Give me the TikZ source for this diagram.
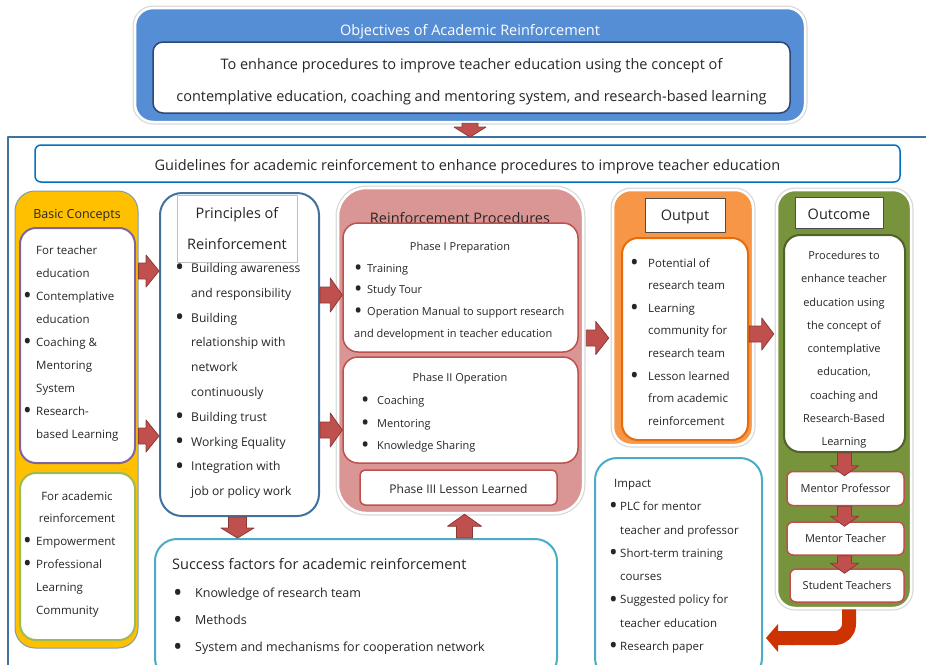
\documentclass[tikz,border=0pt]{standalone}
\usepackage{fontspec}
\setmainfont{Open Sans}
\usetikzlibrary{calc}
\definecolor{objblue}{RGB}{85,142,213}
\definecolor{objline}{RGB}{44,72,117}
\definecolor{frameblue}{RGB}{65,113,156}
\definecolor{guideblue}{RGB}{0,112,192}
\definecolor{bcyellow}{RGB}{255,192,0}
\definecolor{bcpurple}{RGB}{128,100,162}
\definecolor{bcgreen}{RGB}{155,187,89}
\definecolor{prpink}{RGB}{217,150,148}
\definecolor{prred}{RGB}{192,80,77}
\definecolor{prdark}{RGB}{140,56,54}
\definecolor{oporange}{RGB}{247,150,70}
\definecolor{opline}{RGB}{228,108,10}
\definecolor{ocgreen}{RGB}{119,147,60}
\definecolor{ocline}{RGB}{79,98,40}
\definecolor{imblue}{RGB}{75,172,198}
\definecolor{bendred}{RGB}{204,51,0}
\definecolor{txt}{RGB}{38,38,38}

\newcommand{\bl}[1]{\makebox[#1][l]{\raisebox{-0.27em}{\scalebox{2}{\textbullet}}}}
\newcommand{\ind}[1]{\hspace*{#1}}

\tikzset{
  halo/.style={preaction={draw=black!15,line width=5pt},draw=white,line width=2.5pt},
  rbox/.style={draw,fill=white,line width=1.5pt,rounded corners=#1},
  fat/.style n args={3}{to path={let \p1=($(\tikztotarget)-(\tikztostart)$),
      \n1={veclen(\x1,\y1)}, \n2={atan2(\y1,\x1)} in
      {[shift={(\tikztostart)},rotate=\n2,x=1pt,y=1pt]
       (0,-#1) -- (\n1-#3,-#1) -- (\n1-#3,-#2) -- (\n1,0) -- (\n1-#3,#2) -- (\n1-#3,#1) -- (0,#1) -- cycle}}},
  blockarrow/.style={fill=prred,draw=prdark,line width=0.8pt},
  tbig/.style={font=\fontsize{14.5}{16}\selectfont},
  tmid/.style={font=\fontsize{12.5}{14}\selectfont},
  tsmall/.style={font=\fontsize{11}{13}\selectfont},
  lst/.style={anchor=north west,align=left},
}

\begin{document}
\begin{tikzpicture}[x=1pt,y=-1pt,line join=round,every node/.style={inner sep=0pt,text=txt}]
\useasboundingbox (0,0) rectangle (926,664);

% objectives
\node[halo,fill=objblue,rounded corners=18,minimum width=670,minimum height=114] (obj) at (470,65) {};
\node[tbig,text=white] (objtitle) at (470,32) {Objectives of Academic Reinforcement};
\node[rbox=10,draw=objline,minimum width=637,minimum height=71] (objin) at (471.5,77.5) {};
\node[align=center,font=\fontsize{14.5}{32}\selectfont] (objint) at (471.5,81.5)
  {To enhance procedures to improve teacher education using the concept of\\
   contemplative education, coaching and mentoring system, and research-based learning};

% frame
\coordinate (ftop) at (470,137);
\draw[frameblue,line width=2pt] (940,137) -- (8,137) -- (8,680);
\draw[blockarrow] (obj.south) to[fat={8}{16}{10}] (ftop);
\node[rbox=6,draw=guideblue,minimum width=865,minimum height=37] (guide) at (467.5,163.5) {};
\node[tbig] (guidet) at (467.5,166.5)
  {Guidelines for academic reinforcement to enhance procedures to improve teacher education};

% basic concepts
\node[draw=frameblue!70,line width=1pt,fill=bcyellow,rounded corners=20,minimum width=123,minimum height=457] (basic) at (76.5,419.5) {};
\node[tmid] (basictitle) at (77,215) {Basic Concepts};
\node[rbox=16,draw=bcpurple,line width=2pt,minimum width=115,minimum height=235] (bcteach) at (77.5,345.5) {};
\node[lst,font=\fontsize{11.5}{22.9}\selectfont] (bcteacht) at (23,246)
  {\ind{13pt}For teacher\\ \ind{13pt}education\\ \bl{13pt}Contemplative\\ \ind{13pt}education\\
   \bl{13pt}Coaching \&\\ \ind{13pt}Mentoring\\ \ind{13pt}System\\ \bl{13pt}Research-\\ \ind{13pt}based Learning};
\node[rbox=16,draw=bcgreen,line width=2pt,minimum width=115,minimum height=167] (bcacad) at (77.5,556.5) {};
\node[align=center,font=\fontsize{11.5}{22.5}\selectfont] (bcacadt) at (77,507) {For academic\\reinforcement};
\node[lst,font=\fontsize{11.5}{23}\selectfont] (bcacadl) at (23,537)
  {\bl{13pt}Empowerment\\ \bl{13pt}Professional\\ \ind{13pt}Learning\\ \ind{13pt}Community};

% principles
\node[rbox=22,draw=frameblue,line width=2pt,minimum width=159,minimum height=323] (princ) at (239.5,354.5) {};
\node[draw=black!25,fill=white,line width=0.6pt,minimum width=120,minimum height=67,align=center,
  font=\fontsize{14.5}{31}\selectfont] (princt) at (237,229) {Principles of\\Reinforcement};
\node[lst,font=\fontsize{12.1}{24.8}\selectfont] (princl) at (175,263)
  {\bl{16pt}Building awareness\\ \ind{16pt}and responsibility\\ \bl{16pt}Building\\ \ind{16pt}relationship with\\
   \ind{16pt}network\\ \ind{16pt}continuously\\ \bl{16pt}Building trust\\ \bl{16pt}Working Equality\\
   \bl{16pt}Integration with\\ \ind{16pt}job or policy work};

% reinforcement procedures
\node[halo,fill=prpink,rounded corners=28,minimum width=245,minimum height=325] (proc) at (460.5,350.5) {};
\node[tbig] (proct) at (460,218) {Reinforcement Procedures};
\node[rbox=15,draw=prred,minimum width=235,minimum height=129] (ph1) at (460.5,287.5) {};
\node[tsmall] (ph1t) at (460,248) {Phase I Preparation};
\node[lst,font=\fontsize{11}{21.7}\selectfont] (ph1l) at (354,264)
  {\bl{13pt}Training\\ \bl{13pt}Study Tour\\ \bl{13pt}Operation Manual to support research\\ and development in teacher education};
\node[rbox=15,draw=prred,minimum width=235,minimum height=106] (ph2) at (460.5,410) {};
\node[tsmall] (ph2t) at (460,379) {Phase II Operation};
\node[lst,font=\fontsize{11}{22.5}\selectfont] (ph2l) at (361,396)
  {\bl{16pt}Coaching\\ \bl{16pt}Mentoring\\ \bl{16pt}Knowledge Sharing};
\node[rbox=5,draw=prred,minimum width=197,minimum height=35] (ph3) at (458.5,487.5) {};
\node[font=\fontsize{12}{14}\selectfont] (ph3t) at (458.5,489) {Phase III Lesson Learned};

% output
\node[halo,fill=oporange,rounded corners=18,minimum width=140,minimum height=255] (outp) at (683,317.5) {};
\node[draw=black!70,fill=white,line width=0.8pt,minimum width=80,minimum height=34] (outpt) at (685,215) {};
\node[tbig] (outptt) at (685,217) {Output};
\node[rbox=16,draw=opline,line width=2pt,minimum width=126,minimum height=202] (outpin) at (685,339) {};
\node[lst,font=\fontsize{11.5}{22.6}\selectfont] (outpl) at (630,258)
  {\bl{18pt}Potential of\\ \ind{18pt}research team\\ \bl{18pt}Learning\\ \ind{18pt}community for\\ \ind{18pt}research team\\
   \bl{18pt}Lesson learned\\ \ind{18pt}from academic\\ \ind{18pt}reinforcement};

% outcome
\node[halo,fill=ocgreen,rounded corners=18,minimum width=134,minimum height=418] (outc) at (844,399) {};
\node[draw=black!70,fill=white,line width=0.8pt,minimum width=88,minimum height=31] (outct) at (839,212.5) {};
\node[tbig] (outctt) at (839,214) {Outcome};
\node[rbox=16,draw=ocline,line width=2pt,minimum width=121,minimum height=217] (outcin) at (844.5,343.5) {};
\node[anchor=north,align=center,font=\fontsize{11}{23.25}\selectfont] (outcl) at (844,251)
  {Procedures to\\enhance teacher\\education using\\the concept of\\contemplative\\education,\\coaching and\\Research-Based\\Learning};
\node[rbox=6,draw=prred,minimum width=117,minimum height=34,tsmall] (mprof) at (845.5,488.5) {Mentor Professor};
\node[rbox=6,draw=prred,minimum width=117,minimum height=33,tsmall] (mteach) at (845.5,538.5) {Mentor Teacher};
\node[rbox=6,draw=prred,minimum width=114,minimum height=33,tsmall] (steach) at (847,585.5) {Student Teachers};
\foreach \a/\b in {outcin/mprof,mprof/mteach,mteach/steach}
  \draw[blockarrow] (\a.south -| outcin.south) to[fat={7}{14}{10}] ([yshift=-5]\b.north -| outcin.south);

% impact
\node[rbox=22,draw=imblue,line width=2pt,minimum width=167,minimum height=222] (impact) at (678.5,569) {};
\node[lst,font=\fontsize{11.5}{23.3}\selectfont] (impactl) at (609,479)
  {\ind{5pt}Impact\\ \bl{11pt}PLC for mentor\\ \ind{11pt}teacher and professor\\ \bl{11pt}Short-term training\\
   \ind{11pt}courses\\ \bl{11pt}Suggested policy for\\ \ind{11pt}teacher education\\ \bl{11pt}Research paper};

% success factors
\node[rbox=22,draw=imblue,line width=2pt,minimum width=402,minimum height=141] (success) at (356,609.5) {};
\node[tbig,anchor=west] (successt) at (172,564) {Success factors for academic reinforcement};
\node[lst,font=\fontsize{12.5}{27}\selectfont] (successl) at (173,588)
  {\bl{22pt}Knowledge of research team\\ \bl{22pt}Methods\\ \bl{22pt}System and mechanisms for cooperation network};

% block arrows
\coordinate (a1) at (0,271);
\coordinate (a2) at (0,436);
\coordinate (b1) at (0,295);
\coordinate (b2) at (0,430);
\draw[blockarrow] (basic.east |- a1) to[fat={8}{16}{13}] (princ.west |- a1);
\draw[blockarrow] (basic.east |- a2) to[fat={8}{16}{13}] (princ.west |- a2);
\draw[blockarrow] (princ.east |- b1) to[fat={8}{17}{12}] (ph1.west |- b1);
\draw[blockarrow] (princ.east |- b2) to[fat={8}{17}{12}] (ph2.west |- b2);
\draw[blockarrow] ([xshift=2]proc.east |- 0,338) to[fat={8}{16.5}{13}] ([xshift=-3]outp.west |- 0,338);
\draw[blockarrow] ([xshift=-5]outp.east |- 0,334) to[fat={8}{16}{12}] ([xshift=-2]outc.west |- 0,334);
\draw[blockarrow] ([xshift=-2]princ.south) to[fat={9}{16.5}{10}] ([xshift=-2]princ.south |- success.north);
\draw[blockarrow] ([xshift=6]ph3.south |- success.north) to[fat={8}{17}{12}] ([xshift=6]ph3.south |- proc.south);

% bend arrow
\coordinate (bend) at (849,638);
\draw[bendred,line width=14pt,rounded corners=14] (outc.south -| bend) |- ([xshift=28]impact.east |- bend);
\fill[bendred] ([xshift=30]impact.east |- bend) to[fat={7}{14}{12}] ([xshift=3]impact.east |- bend);
\end{tikzpicture}
\end{document}
